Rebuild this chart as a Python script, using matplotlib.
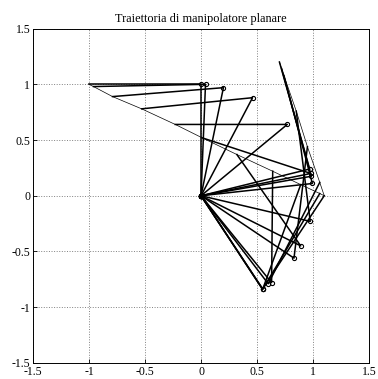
import matplotlib
matplotlib.use("Agg")
import matplotlib.pyplot as plt

# elbow (end of link 1) and end-effector (end of link 2) positions
elbow_x = [0.00, 0.04, 0.20, 0.46, 0.77, 0.98, 0.89, 0.63, 0.55, 0.55, 0.55,
           0.60, 0.83, 0.975, 0.994, 0.985, 0.97]
elbow_y = [1.00, 1.00, 0.97, 0.88, 0.64, 0.20, -0.45, -0.78, -0.84, -0.84, -0.835,
           -0.79, -0.56, -0.23, 0.11, 0.175, 0.24]
end_x = [-1.00, -0.96, -0.79, -0.53, -0.23, 0.01, 0.32, 0.64, 0.89, 1.06, 1.10,
         1.06, 0.95, 0.85, 0.74, 0.72, 0.70]
end_y = [1.00, 0.98, 0.89, 0.78, 0.64, 0.52, 0.37, 0.22, 0.10, 0.02, 0.00,
         0.12, 0.44, 0.76, 1.08, 1.14, 1.20]

ticks = [-1.5, -1, -0.5, 0, 0.5, 1, 1.5]
tick_labels = ["-1.5", "-1", "-0.5", "0", "0.5", "1", "1.5"]

plt.rcParams['font.family'] = ['Liberation Serif', 'DejaVu Serif']

fig = plt.figure(figsize=(3.78, 3.79), dpi=100)
ax = fig.add_axes([0.0873, 0.0425, 0.889, 0.882])

# end-effector path
ax.plot(end_x, end_y, color='black', lw=0.5)

# arm configurations
for ex, ey, px, py in zip(elbow_x, elbow_y, end_x, end_y):
    ax.plot([0, ex, px], [0, ey, py], color='black', lw=1.1)
    ax.plot([0, ex], [0, ey], 'o', color='black', mfc='none', ms=3, mew=0.8)

ax.set_xlim(-1.5, 1.5)
ax.set_ylim(-1.5, 1.5)
ax.set_xticks(ticks)
ax.set_xticklabels(tick_labels)
ax.set_yticks(ticks)
ax.set_yticklabels(tick_labels)
ax.tick_params(direction='in', length=3, labelsize=8.5, pad=2, width=0.6)
ax.grid(True, linestyle=':', color='#808080', lw=0.7)
for s in ax.spines.values():
    s.set_linewidth(0.7)
ax.set_title("Traiettoria di manipolatore planare", fontsize=8.8, pad=5)

fig.savefig("out.png", dpi=100)
